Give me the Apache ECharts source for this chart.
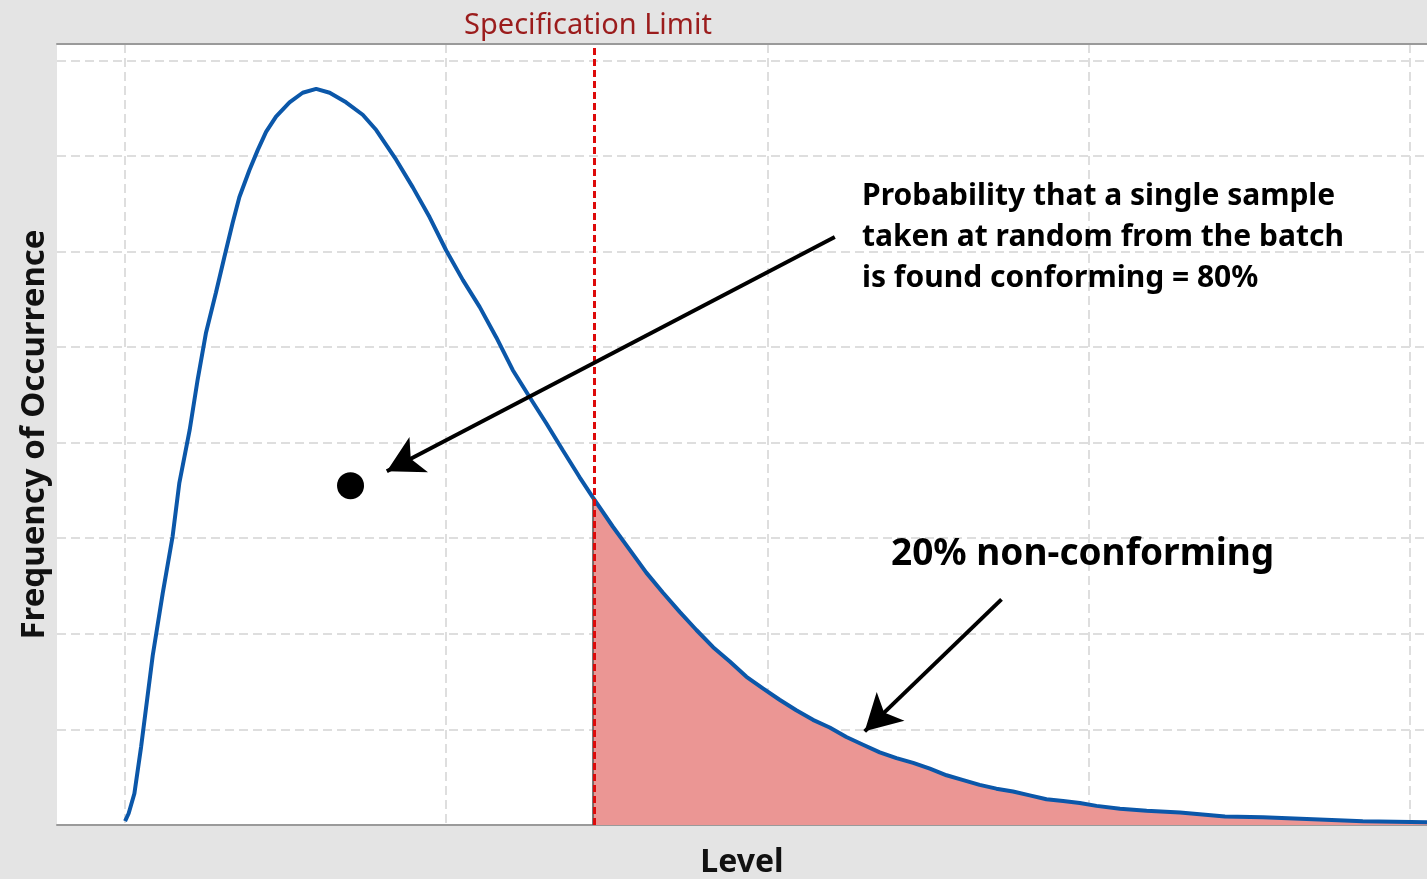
<!DOCTYPE html>
<html>
<head>
<meta charset="utf-8">
<style>
  html, body { margin: 0; padding: 0; background: #e4e4e4; }
  #chart { width: 1427px; height: 879px; }
</style>
<script src="https://cdn.jsdelivr.net/npm/echarts@6/dist/echarts.min.js"></script>
</head>
<body>
<div id="chart"></div>
<script>
// ---- Data ----
const levels = [0.000, 0.011, 0.029, 0.050, 0.086, 0.117, 0.148, 0.169, 0.201, 0.226, 0.252, 0.283, 0.309, 0.335, 0.356, 0.387, 0.413, 0.439, 0.470, 0.512, 0.553, 0.595, 0.637, 0.688, 0.740, 0.782, 0.844, 0.896, 0.948, 1.000, 1.052, 1.104, 1.156, 1.207, 1.259, 1.312, 1.363, 1.415, 1.456, 1.519, 1.571, 1.623, 1.675, 1.727, 1.779, 1.831, 1.883, 1.935, 1.986, 2.038, 2.090, 2.142, 2.194, 2.246, 2.298, 2.350, 2.402, 2.454, 2.506, 2.558, 2.610, 2.661, 2.713, 2.765, 2.817, 2.869, 2.921, 2.973, 3.025, 3.098, 3.181, 3.285, 3.425, 3.543, 3.699, 3.854, 4.054];
const freq   = [0.04, 0.12, 0.33, 0.82, 1.77, 2.42, 3.02, 3.58, 4.13, 4.66, 5.15, 5.57, 5.94, 6.30, 6.57, 6.85, 7.06, 7.25, 7.41, 7.56, 7.66, 7.70, 7.66, 7.56, 7.43, 7.27, 6.96, 6.67, 6.36, 6.01, 5.70, 5.42, 5.10, 4.76, 4.48, 4.20, 3.92, 3.64, 3.43, 3.12, 2.88, 2.64, 2.43, 2.23, 2.04, 1.86, 1.71, 1.55, 1.43, 1.31, 1.20, 1.10, 1.02, 0.92, 0.84, 0.76, 0.70, 0.65, 0.59, 0.52, 0.47, 0.42, 0.38, 0.35, 0.31, 0.27, 0.25, 0.23, 0.20, 0.17, 0.15, 0.13, 0.09, 0.08, 0.06, 0.04, 0.03];
const specLimit = 1.456;
const specLabel = 'Specification Limit';
const xName = 'Level';
const yName = 'Frequency of Occurrence';
const conformText = 'Probability that a single sample\ntaken at random from the batch\nis found conforming = 80%';
const nonConformText = '20% non-conforming';
// annotation anchors in data units
const samplePoint = [0.702, 3.55];
const arrow1 = [[2.210, 6.15], [0.815, 3.70]];
const arrow2 = [[2.729, 2.36], [2.303, 0.98]];

const curveData = levels.map((x, i) => [x, freq[i]]);
const tailData = curveData.filter(p => p[0] >= specLimit);
const specValue = freq[levels.indexOf(specLimit)];

const FONT = '"Noto Sans", "Open Sans", sans-serif';

const chart = echarts.init(document.getElementById('chart'), null, { renderer: 'canvas' });
const option = {
  backgroundColor: '#e4e4e4',
  animation: false,
  grid: {
    left: 57, top: 44, right: 0, bottom: 54,
    outerBoundsMode: 'none', containLabel: false,
    show: true, backgroundColor: '#ffffff', borderWidth: 0
  },
  xAxis: [{
    type: 'value', min: -0.212, max: 4.054,
    name: xName, nameLocation: 'middle', nameGap: 22,
    nameTextStyle: { fontFamily: FONT, fontWeight: 'bold', fontSize: 32, color: '#111' },
    axisLine: { show: true, lineStyle: { color: '#9a9a9a', width: 2 } },
    axisTick: { show: false }, axisLabel: { show: false },
    splitLine: { show: true, showMinLine: false, showMaxLine: false,
      lineStyle: { color: '#dedede', width: 2, type: [9, 5] } }
  }, {
    type: 'value', position: 'top', min: -0.212, max: 4.054,
    axisLine: { show: true, lineStyle: { color: '#9a9a9a', width: 2 } },
    axisTick: { show: false }, axisLabel: { show: false }, splitLine: { show: false }
  }],
  yAxis: {
    type: 'value', min: 0, max: 8.17, interval: 1,
    name: yName, nameLocation: 'middle', nameGap: 6, nameRotate: 90,
    nameTextStyle: { fontFamily: FONT, fontWeight: 'bold', fontSize: 33, color: '#111' },
    axisLine: { show: false }, axisTick: { show: false }, axisLabel: { show: false },
    splitLine: { show: true, showMinLine: false, showMaxLine: false,
      lineStyle: { color: '#dedede', width: 2, type: [9, 5] } }
  },
  series: [
    {
      name: 'tail', type: 'line', data: tailData, showSymbol: false, z: 1,
      lineStyle: { width: 0 },
      areaStyle: { color: '#eb9694', opacity: 1 },
      markLine: {
        silent: true, symbol: 'none', label: { show: false },
        lineStyle: { color: '#555', width: 1.5, type: 'solid' },
        data: [[{ coord: [specLimit, 0] }, { coord: [specLimit, specValue] }]]
      }
    },
    {
      name: 'curve', type: 'line', data: curveData, showSymbol: false, z: 3,
      lineStyle: { color: '#0b57a9', width: 4 },
      markLine: {
        silent: true, symbol: 'none', animation: false,
        data: [{
          xAxis: specLimit,
          lineStyle: { color: '#dd0a0a', width: 3, type: [7, 4] },
          label: { show: true, position: 'end', formatter: specLabel, distance: 4,
            offset: [-6, 0],
            fontFamily: FONT, fontSize: 29, color: '#9b1c1c' }
        }]
      }
    },
    {
      name: 'annot', type: 'line', data: [], z: 5,
      markLine: {
        silent: true, symbol: ['none', 'arrow'], symbolSize: [30, 36],
        label: { show: false },
        lineStyle: { color: '#000', width: 4, type: 'solid' },
        data: [
          [{ coord: arrow1[0] }, { coord: arrow1[1] }],
          [{ coord: arrow2[0] }, { coord: arrow2[1] }]
        ]
      },
      markPoint: {
        silent: true, symbol: 'circle', symbolSize: 27,
        itemStyle: { color: '#000' }, label: { show: false },
        data: [{ coord: samplePoint }]
      }
    }
  ],
  graphic: [
    { type: 'text', left: 862, top: 176, z: 10,
      style: { text: conformText, font: 'bold 30px ' + FONT, fill: '#000', lineHeight: 41 } },
    { type: 'text', left: 891, top: 532, z: 10,
      style: { text: nonConformText, font: 'bold 37px ' + FONT, fill: '#000', lineHeight: 44 } }
  ]
};
chart.setOption(option);
</script>
</body>
</html>
